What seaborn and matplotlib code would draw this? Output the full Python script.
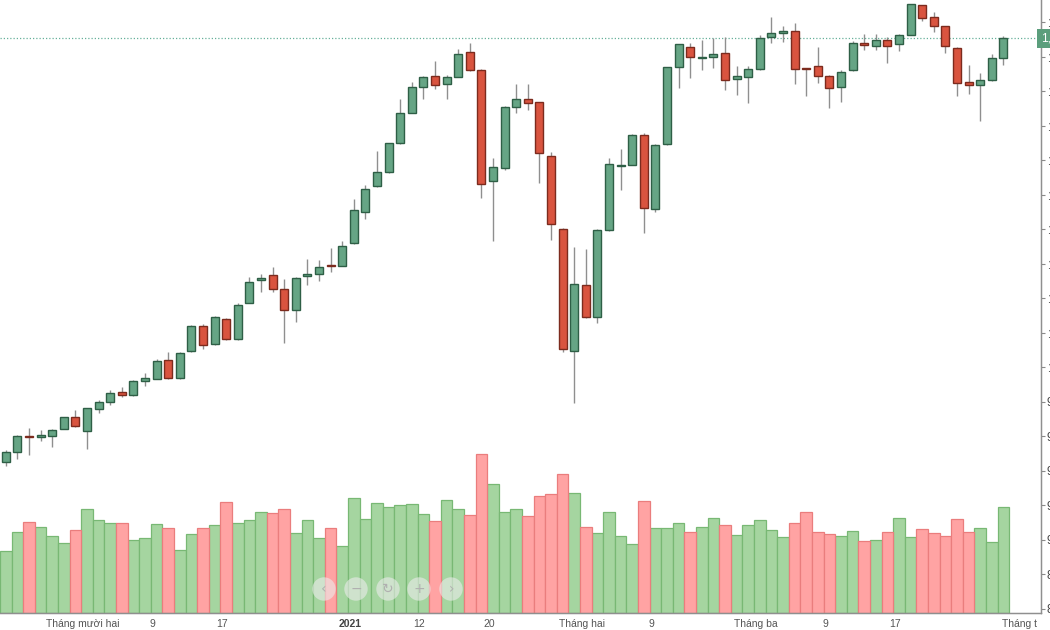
import numpy as np
import pandas as pd
import matplotlib
matplotlib.use("Agg")
import matplotlib.pyplot as plt
import seaborn as sns
from matplotlib.patches import Circle
from matplotlib.transforms import IdentityTransform, Bbox, TransformedBbox, blended_transform_factory

# ---------------- data ----------------
open_ = [944.9, 950.6, 960.0, 959.2, 959.8, 964.2, 971.2, 962.9, 975.8, 979.7,
         985.7, 983.9, 991.7, 993.2, 1004.1, 993.6, 1009.3, 1023.8, 1013.2, 1028.0,
         1016.2, 1037.3, 1050.6, 1053.5, 1045.2, 1033.2, 1052.8, 1053.7, 1059.1, 1058.6,
         1071.7, 1089.9, 1104.9, 1112.9, 1130.0, 1147.4, 1162.3, 1168.5, 1163.9, 1168.3,
         1182.4, 1172.3, 1108.0, 1115.5, 1150.5, 1155.5, 1153.4, 1122.3, 1080.2, 1009.3,
         1047.4, 1029.2, 1079.4, 1116.6, 1117.3, 1134.5, 1091.8, 1129.1, 1173.7, 1185.5,
         1179.4, 1179.5, 1181.9, 1167.1, 1168.3, 1172.6, 1191.5, 1193.6, 1194.6, 1173.2,
         1174.3, 1168.9, 1162.3, 1172.0, 1187.7, 1186.3, 1189.7, 1187.1, 1192.6, 1209.9,
         1202.7, 1197.5, 1184.9, 1165.0, 1163.5, 1166.2, 1179.0]
high = [951.9, 960.8, 964.5, 963.7, 964.1, 971.2, 975.1, 976.5, 981.0, 986.5,
        988.2, 992.5, 996.5, 1004.5, 1008.7, 1008.7, 1024.3, 1024.9, 1029.6, 1028.4,
        1037.3, 1052.3, 1053.7, 1058.1, 1051.2, 1052.2, 1062.6, 1062.0, 1069.0, 1073.3,
        1097.2, 1105.5, 1125.0, 1130.1, 1155.5, 1165.4, 1168.7, 1177.6, 1169.1, 1184.5,
        1188.0, 1172.8, 1121.3, 1151.3, 1163.9, 1163.9, 1153.9, 1124.5, 1080.6, 1069.7,
        1068.6, 1080.0, 1121.3, 1126.4, 1135.1, 1135.8, 1129.3, 1173.9, 1187.5, 1187.7,
        1189.6, 1190.9, 1191.1, 1174.3, 1174.5, 1192.3, 1202.7, 1197.7, 1199.6, 1173.3,
        1185.7, 1169.3, 1172.5, 1189.2, 1193.2, 1193.2, 1191.1, 1193.0, 1210.4, 1210.1,
        1206.0, 1198.0, 1185.5, 1174.9, 1170.3, 1181.3, 1191.9]
low = [942.8, 946.5, 949.0, 957.1, 953.8, 963.8, 965.2, 952.3, 973.5, 978.1,
       982.8, 983.5, 988.8, 992.8, 993.0, 993.2, 1008.7, 1010.4, 1012.8, 1015.7,
       1015.9, 1037.1, 1043.5, 1043.7, 1014.1, 1025.9, 1047.4, 1050.0, 1054.9, 1058.3,
       1071.3, 1086.0, 1104.6, 1112.5, 1129.6, 1147.2, 1155.4, 1161.0, 1155.5, 1168.1,
       1171.6, 1098.1, 1073.0, 1114.0, 1147.1, 1148.8, 1106.8, 1073.6, 1008.7, 979.3,
       1028.7, 1025.3, 1078.8, 1102.6, 1117.1, 1077.5, 1089.9, 1128.7, 1161.7, 1167.7,
       1172.0, 1173.5, 1160.6, 1157.7, 1153.2, 1172.2, 1187.7, 1188.6, 1164.1, 1157.1,
       1164.5, 1150.1, 1153.8, 1171.6, 1183.8, 1183.8, 1176.2, 1183.2, 1192.5, 1200.6,
       1194.0, 1181.9, 1156.9, 1158.4, 1142.6, 1166.1, 1175.1]
close = [950.7, 960.0, 959.2, 960.6, 963.7, 970.8, 965.6, 976.1, 979.7, 985.1,
         983.9, 991.9, 993.4, 1003.7, 993.6, 1008.3, 1023.8, 1012.8, 1029.2, 1016.2,
         1036.2, 1049.3, 1051.8, 1045.2, 1033.2, 1051.8, 1054.1, 1057.8, 1058.7, 1070.1,
         1091.0, 1103.4, 1113.0, 1129.7, 1147.1, 1162.5, 1167.9, 1163.5, 1168.1, 1181.4,
         1172.0, 1106.3, 1115.9, 1150.7, 1155.5, 1153.2, 1124.2, 1082.7, 1010.3, 1048.1,
         1029.2, 1079.4, 1117.5, 1117.2, 1134.5, 1092.0, 1128.7, 1173.7, 1187.2, 1179.5,
         1179.7, 1181.3, 1166.2, 1168.7, 1172.6, 1190.9, 1193.6, 1194.8, 1172.9, 1172.8,
         1168.9, 1161.7, 1171.0, 1188.0, 1186.7, 1189.7, 1186.3, 1192.6, 1210.3, 1202.1,
         1197.5, 1186.1, 1164.6, 1163.5, 1166.4, 1179.1, 1190.6]
volume = [372, 484, 544, 516, 460, 422, 500, 626, 556, 540,
          538, 440, 450, 534, 510, 378, 472, 510, 526, 666,
          540, 556, 604, 600, 626, 478, 560, 450, 510, 400,
          688, 566, 660, 634, 650, 656, 594, 550, 678, 622,
          588, 956, 772, 606, 622, 584, 702, 714, 834, 718,
          516, 478, 604, 460, 412, 672, 510, 510, 540, 488,
          516, 572, 526, 466, 526, 560, 500, 456, 540, 606,
          484, 472, 460, 494, 432, 440, 484, 572, 456, 506,
          478, 460, 562, 488, 510, 428, 638]

price_ticks = [860, 880, 900, 920, 940, 960, 980, 1000, 1020, 1040,
               1060, 1080, 1100, 1120, 1140, 1160, 1180, 1200]
tick_dates = ["2020-12-01", "2020-12-09", "2020-12-17", "2021-01-04", "2021-01-12",
              "2021-01-20", "2021-02-01", "2021-02-09", "2021-03-01", "2021-03-09",
              "2021-03-17", "2021-04-01"]
tick_labels = ["Tháng mười hai", "9", "17", "2021", "12", "20", "Tháng hai", "9",
               "Tháng ba", "9", "17", "Tháng tư"]
holidays = ["2021-01-01", "2021-02-10", "2021-02-11", "2021-02-12", "2021-02-15", "2021-02-16"]

# ---------------- derived ----------------
n = len(close)
cal = pd.bdate_range("2020-11-20", "2021-04-02")
cal = cal[~cal.isin(pd.to_datetime(holidays))]
dates = cal[:n]
idx = np.arange(n)
o = np.array(open_); c = np.array(close); h = np.array(high); l = np.array(low)
up = c >= o
direction = np.where(up, "up", "down")

df = pd.DataFrame({"pos": idx, "volume": volume, "dir": direction})

# ---------------- style ----------------
sns.set_theme(style="white")
plt.rcParams["font.family"] = ["Liberation Sans", "DejaVu Sans"]

W, H = 1050, 630
fig = plt.figure(figsize=(W / 100, H / 100), dpi=100)
fig.patch.set_facecolor("white")
ax = fig.add_axes([0, 17 / H, 1041 / W, 613 / H])

vol_up, vol_down = "#a5d5a0", "#ffa3a3"
vol_up_edge, vol_down_edge = "#78b874", "#ea7d7d"
sns.barplot(data=df, x="pos", y="volume", hue="dir",
            palette={"up": vol_up, "down": vol_down}, dodge=False, width=1.0,
            saturation=1, legend=False, errorbar=None, ax=ax)
for p in ax.patches:
    fc = matplotlib.colors.to_hex(p.get_facecolor())
    p.set_edgecolor(vol_up_edge if fc == vol_up else vol_down_edge)
    p.set_linewidth(0.9)
ax.set_ylim(0, 3678)
ax.set_yticks([])
ax.set_ylabel("")
ax.set_xlabel("")

# price axis
ax2 = ax.twinx()
wick_c = "#8f8f8f"
ax2.vlines(idx, l, h, color=wick_c, lw=1.0, zorder=2)
g_fill, g_edge = "#66a585", "#2e5f46"
r_fill, r_edge = "#d9543f", "#7c2b1e"
body_lo = np.minimum(o, c)
body_h = np.maximum(np.abs(c - o), 0.6)
ax2.bar(idx[up], body_h[up], bottom=body_lo[up], width=0.68, color=g_fill,
        edgecolor=g_edge, linewidth=1.0, zorder=3)
ax2.bar(idx[~up], body_h[~up], bottom=body_lo[~up], width=0.68, color=r_fill,
        edgecolor=r_edge, linewidth=1.0, zorder=3)

ax2.set_ylim(857.4, 1212.8)
ax.set_xlim(-0.5, 89.24)
ax2.set_xlim(-0.5, 89.24)

last = close[-1]
ax2.axhline(last, color="#66b09a", lw=0.9, ls=(0, (1, 1.6)), zorder=1)
ax2.text(1.0, last, f"{last:,.2f}", transform=blended_transform_factory(ax2.transAxes, ax2.transData),
         ha="left", va="center", color="white", fontsize=8.5, clip_on=False,
         bbox=dict(boxstyle="square,pad=0.3", fc="#5b9e7c", ec="none"))

ax2.set_yticks(price_ticks)
ax2.set_yticklabels([f"{v:,.0f}" for v in price_ticks])
ax2.tick_params(axis="y", direction="out", length=3, pad=1, labelsize=8.5,
                colors="#8a8a8a", labelcolor="#444444", width=0.8)

# x ticks
tick_pos = [cal.get_loc(pd.Timestamp(d)) - 0.35 for d in tick_dates]
ax.set_xticks(tick_pos)
ax.set_xticklabels(tick_labels)
ax.tick_params(axis="x", direction="out", length=3, pad=1.5, labelsize=7.5,
               colors="#8a8a8a", labelcolor="#555555", width=0.8)
for lab in ax.get_xticklabels():
    if lab.get_text() == "2021":
        lab.set_fontweight("bold")
        lab.set_color("#444444")
clip = TransformedBbox(Bbox([[0, 0], [1037, H]]), IdentityTransform())
last_lab = ax.get_xticklabels()[-1]
last_lab.set_clip_box(clip)
last_lab.set_clip_on(True)

for a in (ax, ax2):
    for s in ("top", "left"):
        a.spines[s].set_visible(False)
    a.spines["right"].set_color("#8f8f8f")
    a.spines["bottom"].set_color("#8f8f8f")
    a.spines["right"].set_linewidth(0.9)
    a.spines["bottom"].set_linewidth(0.9)
    a.grid(False)
ax.patch.set_facecolor("white")

# navigation buttons overlay
btn_x = [324, 356, 388, 419, 451]
btn_s = ["\u2039", "\u2212", "\u21bb", "+", "\u203a"]
for bx, s in zip(btn_x, btn_s):
    fig.add_artist(Circle((bx, H - 589), 11.7, transform=IdentityTransform(),
                          facecolor="#ececec", edgecolor="none", alpha=0.6, zorder=10))
    fig.text(bx, H - 589, s, transform=IdentityTransform(), ha="center", va="center",
             fontsize=10, color="#b0b0b0", zorder=11, family=["DejaVu Sans"])

fig.savefig("out.png", dpi=100)
